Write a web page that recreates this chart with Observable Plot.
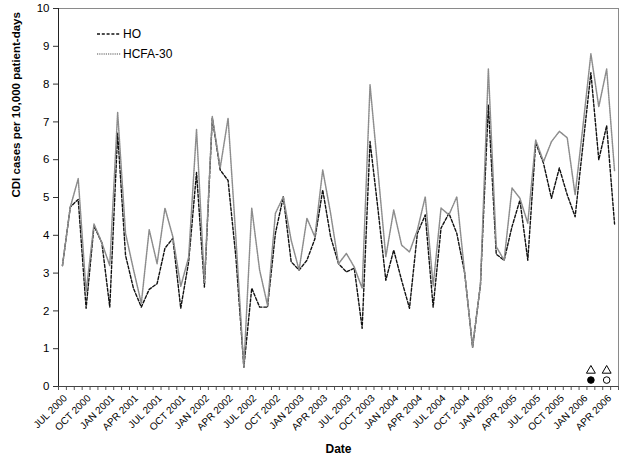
<!DOCTYPE html>
<html>
<head>
<meta charset="utf-8">
<script src="https://cdn.jsdelivr.net/npm/d3@7"></script>
<script src="https://cdn.jsdelivr.net/npm/@observablehq/plot@0.6"></script>
<style>
  html, body { margin: 0; padding: 0; background: #fff; }
  #chart svg { font-family: "Liberation Sans", Arial, sans-serif; }
</style>
</head>
<body>
<div id="chart"></div>
<script>
// Monthly values, JUL 2000 (index 0) to MAY 2006 (index 70)
const hoValues = [
  3.2, 4.75, 4.95, 2.07, 4.25, 3.8, 2.1, 6.7, 3.47, 2.6,
  2.1, 2.57, 2.72, 3.66, 3.92, 2.07, 3.3, 5.66, 2.63, 7.1,
  5.73, 5.45, 3.4, 0.51, 2.6, 2.1, 2.1, 4.05, 5.02, 3.3,
  3.08, 3.34, 3.9, 5.2, 3.96, 3.25, 3.03, 3.13, 1.54, 6.48,
  4.7, 2.81, 3.61, 2.81, 2.07, 4.05, 4.54, 2.1, 4.19, 4.58,
  4.05, 3.0, 1.04, 2.7, 7.45, 3.5, 3.34, 4.23, 4.93, 3.34,
  6.45, 5.9, 4.98, 5.78, 5.07, 4.49, 6.4, 8.3, 6.0, 6.9,
  4.3
];
const hcfaValues = [
  3.2, 4.75, 5.5, 2.5, 4.3, 3.8, 3.2, 7.25, 4.05, 3.1,
  2.2, 4.15, 3.25, 4.72, 3.96, 2.65, 3.42, 6.8, 2.75, 7.14,
  5.78, 7.1, 3.9, 0.51, 4.72, 3.08, 2.15, 4.58, 5.02, 3.87,
  3.08, 4.45, 3.96, 5.73, 4.58, 3.25, 3.52, 3.16, 2.6, 7.98,
  5.7, 3.43, 4.67, 3.74, 3.56, 4.14, 5.02, 2.66, 4.72, 4.54,
  5.02, 3.0, 1.04, 2.7, 8.4, 3.7, 3.34, 5.25, 4.98, 4.32,
  6.52, 5.95, 6.48, 6.75, 6.58, 5.07, 6.9, 8.8, 7.4, 8.4,
  5.7
];
const tickLabels = [
  "JUL 2000", "OCT 2000", "JAN 2001", "APR 2001", "JUL 2001", "OCT 2001",
  "JAN 2002", "APR 2002", "JUL 2002", "OCT 2002", "JAN 2003", "APR 2003",
  "JUL 2003", "OCT 2003", "JAN 2004", "APR 2004", "JUL 2004", "OCT 2004",
  "JAN 2005", "APR 2005", "JUL 2005", "OCT 2005", "JAN 2006", "APR 2006"
];
// Symbols shown near the bottom at FEB 2006 and APR 2006
const markerMonths = [67, 69];
const triangleLevel = 0.42;
const circleLevel = 0.17;
const circleFilled = [true, false];

const seriesNames = ["HO", "HCFA-30"];

const hoData = hoValues.map((v, i) => ({i, v}));
const hcfaData = hcfaValues.map((v, i) => ({i, v}));
const labelIdx = tickLabels.map((_, k) => k * 3);
const monthBounds = d3.range(hoValues.length + 1).map(k => k - 0.5);

const font = '"Liberation Sans", Arial, sans-serif';
const hoStyle = {stroke: "#111", width: 1.4, dash: "3,1.8"};
const hcfaStyle = {stroke: "#8c8c8c", width: 1.5, dash: "1.2,1"};

const plot = Plot.plot({
  width: 624,
  height: 458,
  marginLeft: 58,
  marginRight: 6,
  marginTop: 8,
  marginBottom: 72,
  style: {fontFamily: font, fontSize: "11px", color: "#000", background: "#fff"},
  x: {domain: [-0.5, hoValues.length - 0.5], axis: null},
  y: {domain: [0, 10], axis: null},
  marks: [
    Plot.frame({stroke: "#8a8a8a", strokeWidth: 1}),
    Plot.axisY({ticks: d3.range(0, 11), tickSize: 5, tickPadding: 4, label: null, fontSize: 11.5, stroke: "#333"}),
    Plot.axisX({ticks: monthBounds, tickSize: 4, tickFormat: () => "", label: null, stroke: "#555"}),
    Plot.axisX({ticks: labelIdx, tickSize: 0, tickPadding: 6, tickRotate: -45, dx: 3, dy: 4,
      tickFormat: (d) => tickLabels[d / 3], label: null, fontSize: 10}),
    Plot.ruleX([-0.5], {stroke: "#222"}),
    Plot.ruleY([0], {stroke: "#444"}),
    Plot.line(hoData, {x: "i", y: "v", stroke: hoStyle.stroke, strokeWidth: hoStyle.width, strokeDasharray: hoStyle.dash}),
    Plot.line(hcfaData, {x: "i", y: "v", stroke: hcfaStyle.stroke, strokeWidth: hcfaStyle.width, strokeDasharray: hcfaStyle.dash}),
    Plot.dot(markerMonths, {x: d => d, y: triangleLevel, symbol: "triangle", r: 3.3, stroke: "#000", strokeWidth: 1, fill: "none"}),
    Plot.dot(markerMonths, {x: d => d, y: circleLevel, symbol: "circle", r: 3.3, stroke: "#000", strokeWidth: 1,
      fill: (d, k) => circleFilled[k] ? "#000" : "#fff"}),
    Plot.text(["CDI cases per 10,000 patient-days"], {frameAnchor: "left", rotate: -90, dx: -42, text: d => d,
      fontWeight: "bold", fontSize: 11.5, fill: "#000"}),
    Plot.text(["Date"], {frameAnchor: "bottom", dy: 66, text: d => d, fontWeight: "bold", fontSize: 12, fill: "#000"})
  ]
});

document.getElementById("chart").appendChild(plot);

// Legend inside the plot area
const svg = d3.select(plot);
const legend = svg.append("g").attr("font-family", font).attr("font-size", 12).attr("text-anchor", "start");
[hoStyle, hcfaStyle].forEach((s, k) => {
  const yy = 34 + k * 20;
  legend.append("line").attr("x1", 97).attr("x2", 121).attr("y1", yy).attr("y2", yy)
    .attr("stroke", s.stroke).attr("stroke-width", s.width).attr("stroke-dasharray", s.dash);
  legend.append("text").attr("x", 123).attr("y", yy + 4).attr("fill", "#000")
    .attr("text-anchor", "start").text(seriesNames[k]);
});
</script>
</body>
</html>
